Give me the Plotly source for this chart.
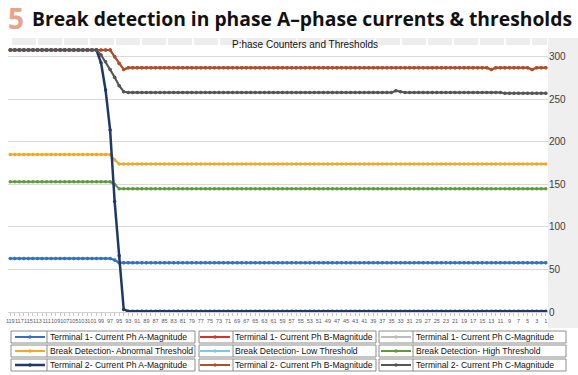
import plotly.graph_objects as go

# ---------------- data (left to right: category 119 ... 1) ----------------
categories = list(range(119, 0, -1))

t1_ph_a = [63, 63, 63, 63, 63, 63, 63, 63, 63, 63,
           63, 63, 63, 63, 63, 63, 63, 63, 63, 63,
           63, 63, 63, 61, 58, 58, 58, 58, 58, 58,
           58, 58, 58, 58, 58, 58, 58, 58, 58, 58,
           58, 58, 58, 58, 58, 58, 58, 58, 58, 58,
           58, 58, 58, 58, 58, 58, 58, 58, 58, 58,
           58, 58, 58, 58, 58, 58, 58, 58, 58, 58,
           58, 58, 58, 58, 58, 58, 58, 58, 58, 58,
           58, 58, 58, 58, 58, 58, 58, 58, 58, 58,
           58, 58, 58, 58, 58, 58, 58, 58, 58, 58,
           58, 58, 58, 58, 58, 58, 58, 58, 58, 58,
           58, 58, 58, 58, 58, 58, 58, 58, 58]
t1_ph_b = [308, 308, 308, 308, 308, 308, 308, 308, 308, 308,
           308, 308, 308, 308, 308, 308, 308, 308, 308, 308,
           308, 308, 308, 300, 292, 285, 287, 287, 287, 287,
           287, 287, 287, 287, 287, 287, 287, 287, 287, 287,
           287, 287, 287, 287, 287, 287, 287, 287, 287, 287,
           287, 287, 287, 287, 287, 287, 287, 287, 287, 287,
           287, 287, 287, 287, 287, 287, 287, 287, 287, 287,
           287, 287, 287, 287, 287, 287, 287, 287, 287, 287,
           287, 287, 287, 287, 287, 287, 287, 287, 287, 287,
           287, 287, 287, 287, 287, 287, 287, 287, 287, 287,
           287, 287, 287, 287, 287, 287, 285, 287, 287, 287,
           287, 287, 287, 287, 287, 285, 287, 287, 287]
t1_ph_c = [308, 308, 308, 308, 308, 308, 308, 308, 308, 308,
           308, 308, 308, 308, 308, 308, 308, 308, 308, 308,
           302, 294, 285, 276, 266, 259, 258, 258, 258, 258,
           258, 258, 258, 258, 258, 258, 258, 258, 258, 258,
           258, 258, 258, 258, 258, 258, 258, 258, 258, 258,
           258, 258, 258, 258, 258, 258, 258, 258, 258, 258,
           258, 258, 258, 258, 258, 258, 258, 258, 258, 258,
           258, 258, 258, 258, 258, 258, 258, 258, 258, 258,
           258, 258, 258, 258, 258, 260, 259, 258, 258, 258,
           258, 258, 258, 258, 258, 258, 258, 258, 258, 258,
           258, 258, 258, 258, 258, 258, 258, 258, 258, 257,
           257, 257, 257, 257, 257, 257, 257, 257, 257]
abnormal_thr = [185, 185, 185, 185, 185, 185, 185, 185, 185, 185,
                185, 185, 185, 185, 185, 185, 185, 185, 185, 185,
                185, 185, 185, 179, 174, 174, 174, 174, 174, 174,
                174, 174, 174, 174, 174, 174, 174, 174, 174, 174,
                174, 174, 174, 174, 174, 174, 174, 174, 174, 174,
                174, 174, 174, 174, 174, 174, 174, 174, 174, 174,
                174, 174, 174, 174, 174, 174, 174, 174, 174, 174,
                174, 174, 174, 174, 174, 174, 174, 174, 174, 174,
                174, 174, 174, 174, 174, 174, 174, 174, 174, 174,
                174, 174, 174, 174, 174, 174, 174, 174, 174, 174,
                174, 174, 174, 174, 174, 174, 174, 174, 174, 174,
                174, 174, 174, 174, 174, 174, 174, 174, 174]
low_thr = [63, 63, 63, 63, 63, 63, 63, 63, 63, 63,
           63, 63, 63, 63, 63, 63, 63, 63, 63, 63,
           63, 63, 63, 61, 58, 58, 58, 58, 58, 58,
           58, 58, 58, 58, 58, 58, 58, 58, 58, 58,
           58, 58, 58, 58, 58, 58, 58, 58, 58, 58,
           58, 58, 58, 58, 58, 58, 58, 58, 58, 58,
           58, 58, 58, 58, 58, 58, 58, 58, 58, 58,
           58, 58, 58, 58, 58, 58, 58, 58, 58, 58,
           58, 58, 58, 58, 58, 58, 58, 58, 58, 58,
           58, 58, 58, 58, 58, 58, 58, 58, 58, 58,
           58, 58, 58, 58, 58, 58, 58, 58, 58, 58,
           58, 58, 58, 58, 58, 58, 58, 58, 58]
high_thr = [153, 153, 153, 153, 153, 153, 153, 153, 153, 153,
            153, 153, 153, 153, 153, 153, 153, 153, 153, 153,
            153, 153, 153, 150, 145, 145, 145, 145, 145, 145,
            145, 145, 145, 145, 145, 145, 145, 145, 145, 145,
            145, 145, 145, 145, 145, 145, 145, 145, 145, 145,
            145, 145, 145, 145, 145, 145, 145, 145, 145, 145,
            145, 145, 145, 145, 145, 145, 145, 145, 145, 145,
            145, 145, 145, 145, 145, 145, 145, 145, 145, 145,
            145, 145, 145, 145, 145, 145, 145, 145, 145, 145,
            145, 145, 145, 145, 145, 145, 145, 145, 145, 145,
            145, 145, 145, 145, 145, 145, 145, 145, 145, 145,
            145, 145, 145, 145, 145, 145, 145, 145, 145]
t2_ph_a = [308, 308, 308, 308, 308, 308, 308, 308, 308, 308,
           308, 308, 308, 308, 308, 308, 308, 308, 308, 308,
           293, 261, 214, 130, 66, 3, 1, 1, 1, 1,
           1, 1, 1, 1, 1, 1, 1, 1, 1, 1,
           1, 1, 1, 1, 1, 1, 1, 1, 1, 1,
           1, 1, 1, 1, 1, 1, 1, 1, 1, 1,
           1, 1, 1, 1, 1, 1, 1, 1, 1, 1,
           1, 1, 1, 1, 1, 1, 1, 1, 1, 1,
           1, 1, 1, 1, 1, 1, 1, 1, 1, 1,
           1, 1, 1, 1, 1, 1, 1, 1, 1, 1,
           1, 1, 1, 1, 1, 1, 1, 1, 1, 1,
           1, 1, 1, 1, 1, 1, 1, 1, 1]
t2_ph_b = [308, 308, 308, 308, 308, 308, 308, 308, 308, 308,
           308, 308, 308, 308, 308, 308, 308, 308, 308, 308,
           308, 308, 308, 300, 292, 285, 287, 287, 287, 287,
           287, 287, 287, 287, 287, 287, 287, 287, 287, 287,
           287, 287, 287, 287, 287, 287, 287, 287, 287, 287,
           287, 287, 287, 287, 287, 287, 287, 287, 287, 287,
           287, 287, 287, 287, 287, 287, 287, 287, 287, 287,
           287, 287, 287, 287, 287, 287, 287, 287, 287, 287,
           287, 287, 287, 287, 287, 287, 287, 287, 287, 287,
           287, 287, 287, 287, 287, 287, 287, 287, 287, 287,
           287, 287, 287, 287, 287, 287, 285, 287, 287, 287,
           287, 287, 287, 287, 287, 285, 287, 287, 287]
t2_ph_c = [308, 308, 308, 308, 308, 308, 308, 308, 308, 308,
           308, 308, 308, 308, 308, 308, 308, 308, 308, 308,
           302, 294, 285, 276, 266, 259, 258, 258, 258, 258,
           258, 258, 258, 258, 258, 258, 258, 258, 258, 258,
           258, 258, 258, 258, 258, 258, 258, 258, 258, 258,
           258, 258, 258, 258, 258, 258, 258, 258, 258, 258,
           258, 258, 258, 258, 258, 258, 258, 258, 258, 258,
           258, 258, 258, 258, 258, 258, 258, 258, 258, 258,
           258, 258, 258, 258, 258, 260, 259, 258, 258, 258,
           258, 258, 258, 258, 258, 258, 258, 258, 258, 258,
           258, 258, 258, 258, 258, 258, 258, 258, 258, 257,
           257, 257, 257, 257, 257, 257, 257, 257, 257]

y_ticks = [0, 50, 100, 150, 200, 250, 300]

# (name, values, colour, line width, marker size, legend id)  -- draw order
series = [
    ("Break Detection- Low Threshold", low_thr, "#7CC8E6", 2, 3.5, "legend5"),
    ("Terminal 1- Current Ph A-Magnitude", t1_ph_a, "#3A70B8", 2, 3.5, "legend"),
    ("Terminal 1- Current Ph B-Magnitude", t1_ph_b, "#D3342C", 2, 3.5, "legend2"),
    ("Terminal 1- Current Ph C-Magnitude", t1_ph_c, "#BDBDBD", 2, 3.5, "legend3"),
    ("Break Detection- Abnormal Threshold", abnormal_thr, "#F5A623", 2, 3.5, "legend4"),
    ("Break Detection- High Threshold", high_thr, "#5E9B3A", 2, 3.5, "legend6"),
    ("Terminal 2- Current Ph A-Magnitude", t2_ph_a, "#1F3868", 2.5, 3.5, "legend7"),
    ("Terminal 2- Current Ph B-Magnitude", t2_ph_b, "#A9532A", 2, 3.5, "legend8"),
    ("Terminal 2- Current Ph C-Magnitude", t2_ph_c, "#555555", 2, 3.5, "legend9"),
]

W, H = 578, 375
L, T, B_PX, R_PX = 8, 44, 312, 548
PW, PH = R_PX - L, B_PX - T


def px2x(px):
    return (px - L) / PW


def py2y(py):
    return (B_PX - py) / PH


fig = go.Figure()
for name, vals, col, lw, ms, lg in series:
    fig.add_trace(go.Scatter(
        x=categories, y=vals, name=name, mode="lines+markers",
        line=dict(color=col, width=lw),
        marker=dict(color=col, size=ms, symbol="circle"),
        legend=lg, showlegend=True))

SANS = "Liberation Sans, Arial, sans-serif"

# legend cells: legend id -> (entry x px, row centre y px)
col_x = [10, 195, 376]
row_y = [337, 351, 365]
leg_pos = {
    "legend": (0, 0), "legend2": (1, 0), "legend3": (2, 0),
    "legend4": (0, 1), "legend5": (1, 1), "legend6": (2, 1),
    "legend7": (0, 2), "legend8": (1, 2), "legend9": (2, 2),
}
legends = {}
for lg, (c, r) in leg_pos.items():
    legends[lg] = dict(
        x=px2x(col_x[c]), y=py2y(row_y[r]), xanchor="left", yanchor="middle",
        orientation="h", bgcolor="rgba(0,0,0,0)", borderwidth=0,
        font=dict(family=SANS, size=8.6, color="#111111"),
        itemwidth=30, itemclick=False)

shapes = []
# top grey header band
for k in range(21):
    x0 = 12 + 26 * k
    x1 = min(x0 + 24, 547)
    if x0 >= 547:
        break
    shapes.append(dict(type="rect", xref="paper", yref="paper",
                       x0=px2x(x0), x1=px2x(x1), y0=py2y(45), y1=py2y(38),
                       fillcolor="#EDEDED", line=dict(width=0), layer="below"))
# right grey band
shapes.append(dict(type="rect", xref="paper", yref="paper",
                   x0=px2x(548), x1=px2x(578), y0=py2y(328), y1=py2y(38),
                   fillcolor="#EFEFEF", line=dict(width=0), layer="below"))
# legend cell borders
cells = [(11, 195, 47), (199, 376, 233), (379, 566, 413)]
rows = [(331, 343), (345, 357), (359, 371)]
for (ya, yb) in rows:
    for (xa, xb, xd) in cells:
        shapes.append(dict(type="rect", xref="paper", yref="paper",
                           x0=px2x(xa), x1=px2x(xb), y0=py2y(yb), y1=py2y(ya),
                           line=dict(color="#8C8C8C", width=1)))
        shapes.append(dict(type="line", xref="paper", yref="paper",
                           x0=px2x(xd), x1=px2x(xd), y0=py2y(yb), y1=py2y(ya),
                           line=dict(color="#8C8C8C", width=1)))

annotations = [
    dict(text="<b>5</b>", x=px2x(16), y=py2y(18), xref="paper", yref="paper",
         xanchor="center", yanchor="middle", showarrow=False,
         font=dict(family="Open Sans, Lato, sans-serif", size=28, color="#E8A48A")),
    dict(text="<b>Break detection in phase A\u2013phase currents &amp; thresholds</b>",
         x=px2x(30), y=py2y(18), xref="paper", yref="paper",
         xanchor="left", yanchor="middle", showarrow=False,
         font=dict(family="Open Sans, Lato, sans-serif", size=19.3, color="#111111")),
    dict(text="P:hase Counters and Thresholds", x=px2x(305), y=py2y(45),
         xref="paper", yref="paper", xanchor="center", yanchor="middle",
         showarrow=False, font=dict(family=SANS, size=10, color="#111111")),
]

fig.update_layout(
    width=W, height=H,
    margin=dict(l=L, r=W - R_PX, t=T, b=H - B_PX, autoexpand=False),
    paper_bgcolor="white", plot_bgcolor="white",
    shapes=shapes, annotations=annotations,
    hovermode=False,
    **legends,
)
fig.update_xaxes(
    range=[119.5, 0.5], tickmode="linear", tick0=1, dtick=2, tickangle=0,
    ticks="outside", ticklen=3, tickcolor="#C8C8C8",
    minor=dict(dtick=1, tick0=0, ticks="outside", ticklen=3, tickcolor="#C8C8C8"),
    showline=True, linecolor="#D0D0D0", showgrid=False, zeroline=False,
    tickfont=dict(family=SANS, size=5.5, color="#595959"),
)
fig.update_yaxes(
    range=[0, 315], side="right", tickmode="array", tickvals=y_ticks,
    showgrid=True, gridcolor="#D9D9D9", gridwidth=1, zeroline=False,
    showline=False, ticks="",
    tickfont=dict(family=SANS, size=10, color="#404040"),
)

fig.write_html(
    "out.html",
    config={"displayModeBar": False, "staticPlot": True},
    post_script="document.body.style.margin='0';document.body.style.overflow='hidden';",
)
